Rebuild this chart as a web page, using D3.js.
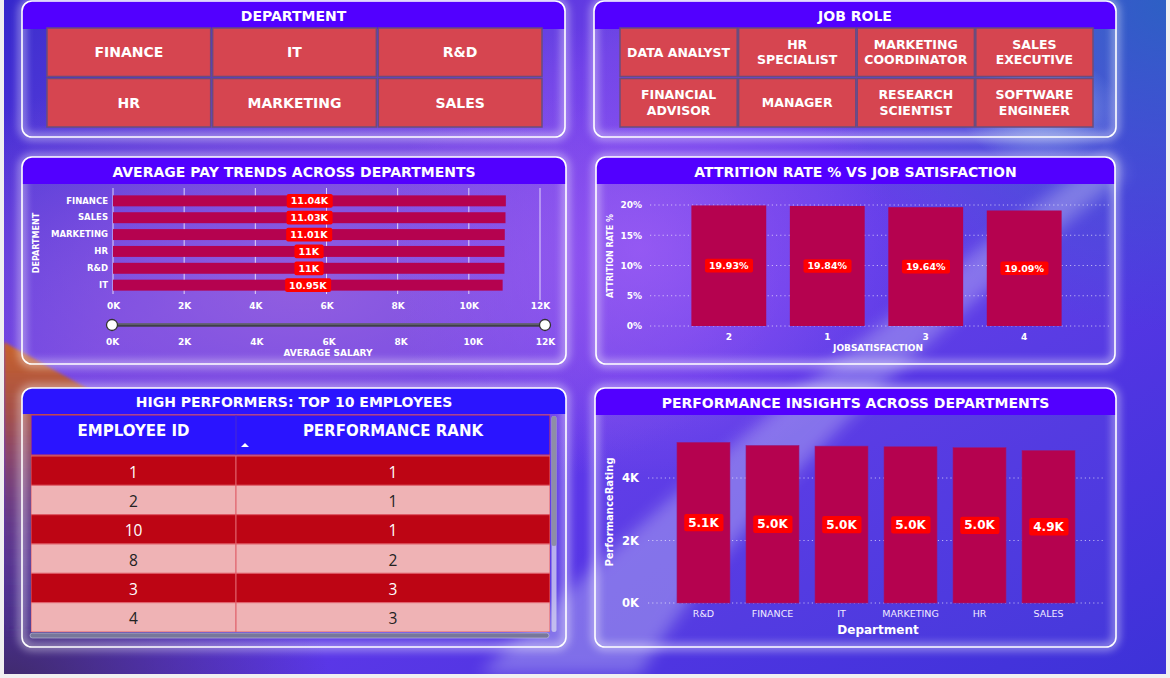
<!DOCTYPE html>
<html><head><meta charset="utf-8">
<script src="https://cdn.jsdelivr.net/npm/d3@7"></script>
<style>html,body{margin:0;padding:0;background:#f0f0f0;overflow:hidden}svg{display:block}</style>
</head><body>
<svg id="c" width="1170" height="678"></svg>
<script>
// ---------- DATA ----------
const departments = ["FINANCE","IT","R&D","HR","MARKETING","SALES"];
const jobRoles = ["DATA ANALYST","HR\nSPECIALIST","MARKETING\nCOORDINATOR","SALES\nEXECUTIVE","FINANCIAL\nADVISOR","MANAGER","RESEARCH\nSCIENTIST","SOFTWARE\nENGINEER"];
const payDepts = ["FINANCE","SALES","MARKETING","HR","R&D","IT"];
const payValues = [11040,11030,11010,11000,11000,10950];
const payTicks = [0,2000,4000,6000,8000,10000,12000];
const satisfaction = ["2","1","3","4"];
const attritionRate = [19.93,19.84,19.64,19.09];
const attritionTicks = [0,5,10,15,20];
const perfDepts = ["R&D","FINANCE","IT","MARKETING","HR","SALES"];
const perfValues = [5140,5040,5020,5000,4970,4880];
const perfTicks = [0,2000,4000];
const employeeIds = [1,2,10,8,3,4];
const perfRanks = [1,1,1,2,3,3];

// ---------- SETUP ----------
const FONT = "'DejaVu Sans', Verdana, sans-serif";
const svg = d3.select("#c");
const defs = svg.append("defs");

function radial(id, stops){
  const g = defs.append("radialGradient").attr("id", id);
  stops.forEach(s => g.append("stop").attr("offset", s[0]).attr("stop-color", s[1]).attr("stop-opacity", s[2]));
}
const lin = defs.append("linearGradient").attr("id","bgBase").attr("x1",0).attr("y1",0).attr("x2",1).attr("y2",1);
[[0,"#3528cc"],[0.3,"#6a3ee6"],[0.55,"#6038ea"],[1,"#3d32d8"]].forEach(s=>lin.append("stop").attr("offset",s[0]).attr("stop-color",s[1]));
const og = defs.append("linearGradient").attr("id","gOr").attr("x1",0).attr("y1",0).attr("x2",0).attr("y2",1);
[[0,"#c8622a",1],[0.25,"#a8503a",0.9],[0.6,"#6a3a62",0.6],[1,"#4a2e6a",0]].forEach(s=>og.append("stop").attr("offset",s[0]).attr("stop-color",s[1]).attr("stop-opacity",s[2]));
radial("gPurple", [[0,"#9a62dc",0.75],[1,"#9a62dc",0]]);
radial("gViolet", [[0,"#9a58f6",0.8],[1,"#9a58f6",0]]);
radial("gBlue", [[0,"#2a62c2",0.95],[1,"#2a62c2",0]]);
radial("gDark", [[0,"#3a2858",0.9],[1,"#3a2858",0]]);
radial("gLight", [[0,"#a8c4f0",0.8],[1,"#a8c4f0",0]]);
defs.append("filter").attr("id","blur8").attr("x","-50%").attr("y","-50%").attr("width","200%").attr("height","200%")
  .append("feGaussianBlur").attr("stdDeviation",8);
defs.append("filter").attr("id","blur2").attr("x","-20%").attr("y","-20%").attr("width","140%").attr("height","140%")
  .append("feGaussianBlur").attr("stdDeviation",1.5);
defs.append("filter").attr("id","blur4").attr("x","-20%").attr("y","-20%").attr("width","140%").attr("height","140%")
  .append("feGaussianBlur").attr("stdDeviation",4);
defs.append("clipPath").attr("id","bgClip").append("rect").attr("x",4).attr("y",0).attr("width",1162).attr("height",674);

// ---------- BACKGROUND ----------
const bg = svg.append("g").attr("clip-path","url(#bgClip)");
bg.append("rect").attr("x",4).attr("y",0).attr("width",1162).attr("height",674).attr("fill","url(#bgBase)");
bg.append("ellipse").attr("cx",300).attr("cy",290).attr("rx",480).attr("ry",230).attr("fill","url(#gPurple)");
bg.append("ellipse").attr("cx",640).attr("cy",250).attr("rx",260).attr("ry",230).attr("fill","url(#gViolet)");
bg.append("ellipse").attr("cx",1170).attr("cy",0).attr("rx",380).attr("ry",330).attr("fill","url(#gBlue)");
bg.append("ellipse").attr("cx",0).attr("cy",690).attr("rx",330).attr("ry",240).attr("fill","url(#gDark)");
bg.append("path").attr("d","M4,342 L90,390 L90,640 L4,640 Z").attr("fill","url(#gOr)").attr("filter","url(#blur2)");
bg.append("path").attr("d","M480,674 C640,520 800,380 1110,150 L1125,175 C870,380 720,540 640,674 Z")
  .attr("fill","#c4c4f4").attr("opacity",0.4).attr("filter","url(#blur8)");
bg.append("ellipse").attr("cx",1040).attr("cy",110).attr("rx",80).attr("ry",55).attr("fill","url(#gLight)");

// ---------- PANELS ----------
let clipN = 0;
function panel(x, y, w, h, title, hh, hcolor){
  svg.append("rect").attr("x",x).attr("y",y).attr("width",w).attr("height",h).attr("rx",10)
    .attr("fill","none").attr("stroke","#ffffff").attr("stroke-width",6).attr("opacity",0.55).attr("filter","url(#blur4)");
  const id = "pc" + (clipN++);
  defs.append("clipPath").attr("id",id).append("rect").attr("x",x).attr("y",y).attr("width",w).attr("height",h).attr("rx",10);
  const g = svg.append("g");
  g.append("rect").attr("x",x).attr("y",y).attr("width",w).attr("height",h).attr("rx",10).attr("fill","rgba(255,255,255,0.03)");
  g.append("rect").attr("x",x).attr("y",y).attr("width",w).attr("height",hh).attr("fill",hcolor).attr("clip-path",`url(#${id})`);
  g.append("rect").attr("x",x).attr("y",y).attr("width",w).attr("height",h).attr("rx",10)
    .attr("fill","none").attr("stroke","#ffffff").attr("stroke-width",1.6);
  g.append("text").attr("x",x+w/2).attr("y",y+hh/2+1).attr("text-anchor","middle").attr("dominant-baseline","central")
    .attr("fill","#fff").attr("font-family",FONT).attr("font-weight","bold").attr("font-size",14).text(title);
  return g;
}

// ---------- SLICERS ----------
function tiles(g, items, cols, x0, x1, fs){
  const rows = Math.ceil(items.length/cols);
  const xb = d3.scaleBand().domain(d3.range(cols)).range([x0,x1]).paddingInner(0.012);
  const yb = d3.scaleBand().domain(d3.range(rows)).range([28,127]).paddingInner(0.04);
  const t = g.selectAll(null).data(items).join("g")
    .attr("transform",(d,i)=>`translate(${xb(i%cols)},${yb(Math.floor(i/cols))})`);
  t.append("rect").attr("width",xb.bandwidth()).attr("height",yb.bandwidth())
    .attr("fill","#d64550").attr("stroke","#6b4c7c").attr("stroke-width",1.5);
  t.each(function(d){
    const lines = d.split("\n");
    const tx = d3.select(this).append("text").attr("text-anchor","middle").attr("fill","#fff")
      .attr("font-family",FONT).attr("font-weight","bold").attr("font-size",fs);
    lines.forEach((ln,k)=>{
      tx.append("tspan").attr("x",xb.bandwidth()/2)
        .attr("y", yb.bandwidth()/2 + (k-(lines.length-1)/2)*15.5).attr("dominant-baseline","central").text(ln);
    });
  });
}
const pDept = panel(22,1,543,136,"DEPARTMENT",28,"#5200ff");
tiles(pDept, departments, 3, 47, 542, 14);
const pJob = panel(594,1,522,136,"JOB ROLE",28,"#5200ff");
tiles(pJob, jobRoles, 4, 620, 1093, 12.5);

// ---------- helper for red data labels ----------
function dataLabel(g, cx, cy, txt, fs){
  const lg = g.append("g");
  const t = lg.append("text").attr("x",cx).attr("y",cy).attr("text-anchor","middle").attr("dominant-baseline","central")
    .attr("fill","#fff").attr("font-family",FONT).attr("font-weight","bold").attr("font-size",fs).text(txt);
  const bb = t.node().getBBox();
  lg.insert("rect","text").attr("x",bb.x-4).attr("y",cy-fs*0.72).attr("width",bb.width+8).attr("height",fs*1.44)
    .attr("rx",2).attr("fill","#ff0000");
}
const axisText = (sel, fs, w) => sel.attr("fill","#fff").attr("font-family",FONT).attr("font-weight",w||"bold").attr("font-size",fs);

// ---------- AVERAGE PAY ----------
const pPay = panel(22,157,544,207,"AVERAGE PAY TRENDS ACROSS DEPARTMENTS",27,"#5200ff");
{
  const x = d3.scaleLinear().domain([0,12000]).range([113,540]);
  const y = d3.scaleBand().domain(payDepts).range([192,294]).paddingInner(0.35).paddingOuter(0.2);
  pPay.selectAll(null).data(payTicks).join("line").attr("x1",d=>x(d)).attr("x2",d=>x(d))
    .attr("y1",188).attr("y2",d=>d===12000?300:294).attr("stroke","rgba(255,255,255,0.75)").attr("stroke-width",1);
  pPay.selectAll(null).data(payDepts).join("rect").attr("x",x(0)).attr("y",d=>y(d))
    .attr("width",(d,i)=>x(payValues[i])-x(0)).attr("height",y.bandwidth()).attr("fill","#b5024f");
  const ax = pPay.append("g").attr("transform","translate(0,300)")
    .call(d3.axisBottom(x).tickValues(payTicks).tickFormat(d=>d/1000+"K").tickSize(0));
  ax.select(".domain").remove();
  axisText(ax.selectAll("text").attr("dy","0.71em"),9);
  const ay = pPay.append("g").attr("transform","translate(111,0)").call(d3.axisLeft(y).tickSize(0));
  ay.select(".domain").remove();
  axisText(ay.selectAll("text"),8.5);
  payDepts.forEach((d,i)=>dataLabel(pPay, (x(0)+x(payValues[i]))/2, y(d)+y.bandwidth()/2, d3.format(".2~f")(payValues[i]/1000)+"K", 9.5));
  axisText(pPay.append("text").attr("transform","translate(39,243) rotate(-90)").attr("text-anchor","middle").text("DEPARTMENT"),8);
  // range slider
  const xs = d3.scaleLinear().domain([0,12000]).range([112,545]);
  pPay.append("line").attr("x1",xs(0)).attr("x2",xs(12000)).attr("y1",325).attr("y2",325).attr("stroke","#3f3f4a").attr("stroke-width",3.5);
  pPay.append("line").attr("x1",xs(0)).attr("x2",xs(12000)).attr("y1",324).attr("y2",324).attr("stroke","#7a7a86").attr("stroke-width",1);
  pPay.selectAll(null).data([0,12000]).join("circle").attr("cx",d=>xs(d)).attr("cy",325).attr("r",5.5)
    .attr("fill","#fff").attr("stroke","#333").attr("stroke-width",1.3);
  const as = pPay.append("g").attr("transform","translate(0,336)")
    .call(d3.axisBottom(xs).tickValues(payTicks).tickFormat(d=>d/1000+"K").tickSize(0));
  as.select(".domain").remove();
  axisText(as.selectAll("text").attr("dy","0.71em"),9);
  axisText(pPay.append("text").attr("x",328).attr("y",356).attr("text-anchor","middle").text("AVERAGE SALARY"),9);
}

// ---------- ATTRITION ----------
const pAttr = panel(596,157,519,207,"ATTRITION RATE % VS JOB SATISFACTION",27,"#5200ff");
{
  const y = d3.scaleLinear().domain([0,20]).range([326,205]);
  const x = d3.scaleBand().domain(satisfaction).range([652,1101]).paddingInner(0.24).paddingOuter(0.4);
  pAttr.selectAll(null).data(attritionTicks).join("line").attr("x1",650).attr("x2",1110)
    .attr("y1",d=>y(d)).attr("y2",d=>y(d)).attr("stroke","rgba(255,255,255,0.6)").attr("stroke-dasharray","1.2,3");
  pAttr.selectAll(null).data(satisfaction).join("rect").attr("x",d=>x(d)).attr("width",x.bandwidth())
    .attr("y",(d,i)=>y(attritionRate[i])).attr("height",(d,i)=>y(0)-y(attritionRate[i])).attr("fill","#b5024f");
  const ay = pAttr.append("g").attr("transform","translate(645,0)")
    .call(d3.axisLeft(y).tickValues(attritionTicks).tickFormat(d=>d+"%").tickSize(0));
  ay.select(".domain").remove();
  axisText(ay.selectAll("text"),9);
  const ax = pAttr.append("g").attr("transform","translate(0,331)").call(d3.axisBottom(x).tickSize(0));
  ax.select(".domain").remove();
  axisText(ax.selectAll("text").attr("dy","0.71em"),9);
  satisfaction.forEach((d,i)=>dataLabel(pAttr, x(d)+x.bandwidth()/2, y(attritionRate[i]/2), d3.format(".2f")(attritionRate[i])+"%", 9.5));
  axisText(pAttr.append("text").attr("x",878).attr("y",351).attr("text-anchor","middle").text("JOBSATISFACTION"),9);
  axisText(pAttr.append("text").attr("transform","translate(613,256) rotate(-90)").attr("text-anchor","middle").text("ATTRITION RATE %"),8);
}

// ---------- PERFORMANCE ----------
const pPerf = panel(595,388,521,259,"PERFORMANCE INSIGHTS ACROSS DEPARTMENTS",27,"#5200ff");
{
  const y = d3.scaleLinear().domain([0,4000]).range([603,478]);
  const x = d3.scaleBand().domain(perfDepts).range([648,1104]).paddingInner(0.232).paddingOuter(0.42);
  pPerf.selectAll(null).data(perfTicks).join("line").attr("x1",648).attr("x2",1104)
    .attr("y1",d=>y(d)).attr("y2",d=>y(d)).attr("stroke","rgba(255,255,255,0.6)").attr("stroke-dasharray","1.2,3");
  pPerf.selectAll(null).data(perfDepts).join("rect").attr("x",d=>x(d)).attr("width",x.bandwidth())
    .attr("y",(d,i)=>y(perfValues[i])).attr("height",(d,i)=>y(0)-y(perfValues[i])).attr("fill","#b5024f")
    .attr("stroke","#9a1a7a").attr("stroke-width",0.6);
  const ay = pPerf.append("g").attr("transform","translate(642,0)")
    .call(d3.axisLeft(y).tickValues(perfTicks).tickFormat(d=>d/1000+"K").tickSize(0));
  ay.select(".domain").remove();
  axisText(ay.selectAll("text"),11.5);
  const ax = pPerf.append("g").attr("transform","translate(0,607)").call(d3.axisBottom(x).tickSize(0));
  ax.select(".domain").remove();
  axisText(ax.selectAll("text").attr("dy","0.71em"),9.5,"normal").attr("fill","#f0eaff");
  perfDepts.forEach((d,i)=>dataLabel(pPerf, x(d)+x.bandwidth()/2, y(perfValues[i]/2), d3.format(".1f")(perfValues[i]/1000)+"K", 12));
  axisText(pPerf.append("text").attr("x",878).attr("y",634).attr("text-anchor","middle").text("Department"),12);
  axisText(pPerf.append("text").attr("transform","translate(613,512) rotate(-90)").attr("text-anchor","middle").text("PerformanceRating"),10);
}

// ---------- TABLE ----------
const pTab = panel(22,388,544,259,"HIGH PERFORMERS: TOP 10 EMPLOYEES",26,"#2b14ff");
{
  const cols = ["EMPLOYEE ID","PERFORMANCE RANK"];
  const cx = d3.scaleOrdinal().domain(cols).range([31,236]);
  const cw = d3.scaleOrdinal().domain(cols).range([205,314]);
  const rowY = d3.scaleBand().domain(d3.range(employeeIds.length)).range([456,632]);
  defs.append("clipPath").attr("id","tabClip").append("rect").attr("x",31).attr("y",414).attr("width",519).attr("height",218);
  const tg = pTab.append("g").attr("clip-path","url(#tabClip)");
  tg.append("rect").attr("x",31).attr("y",415).attr("width",519).attr("height",40).attr("fill","#2a14ff")
    .attr("stroke","#d8404a").attr("stroke-width",1);
  tg.append("line").attr("x1",236).attr("x2",236).attr("y1",415).attr("y2",455).attr("stroke","#4b2ad0").attr("stroke-width",1);
  cols.forEach(c=>{
    tg.append("text").attr("x",cx(c)+cw(c)/2).attr("y",431).attr("text-anchor","middle").attr("dominant-baseline","central")
      .attr("fill","#fff").attr("font-family",FONT).attr("font-weight","bold").attr("font-size",15).text(c);
  });
  tg.append("path").attr("d","M241,447 L245,443 L249,447 Z").attr("fill","#fff");
  const rows = tg.selectAll(null).data(employeeIds).join("g").attr("transform",(d,i)=>`translate(0,${rowY(i)})`);
  cols.forEach((c,ci)=>{
    rows.append("rect").attr("x",cx(c)).attr("width",cw(c)).attr("height",rowY.bandwidth())
      .attr("fill",(d,i)=>i%2===0?"#bd0514":"#efb3b5").attr("stroke","#e0606a").attr("stroke-width",1);
    rows.append("text").attr("x",cx(c)+cw(c)/2).attr("y",rowY.bandwidth()/2+1).attr("text-anchor","middle")
      .attr("dominant-baseline","central").attr("font-family","'Open Sans','Noto Sans',sans-serif").attr("font-size",15.5)
      .attr("fill",(d,i)=>i%2===0?"#ffffff":"#222222")
      .text((d,i)=>ci===0?employeeIds[i]:perfRanks[i]);
  });
  // scrollbars
  pTab.append("rect").attr("x",551.5).attr("y",416).attr("width",5).attr("height",216).attr("rx",2.5).attr("fill","rgba(215,215,240,0.75)");
  pTab.append("rect").attr("x",551.5).attr("y",416).attr("width",5).attr("height",130).attr("rx",2.5).attr("fill","#8e8ea6");
  pTab.append("rect").attr("x",30).attr("y",633).attr("width",519).attr("height",5).attr("rx",2.5).attr("fill","#77779a")
    .attr("stroke","#c8c8e0").attr("stroke-width",0.6);
}
</script>
</body></html>
